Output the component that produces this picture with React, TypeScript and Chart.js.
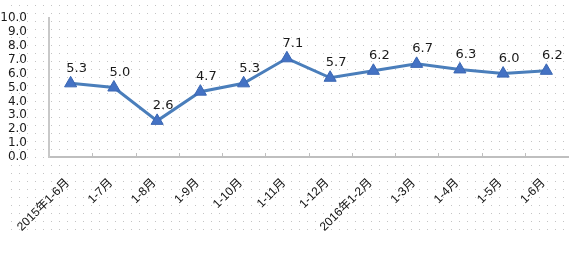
import React, { useEffect, useRef } from "react";
import { Chart, registerables } from "chart.js";

Chart.register(...registerables);

const categories = [
  "2015年1-6月", "1-7月", "1-8月", "1-9月", "1-10月", "1-11月",
  "1-12月", "2016年1-2月", "1-3月", "1-4月", "1-5月", "1-6月",
];
const values = [5.3, 5.0, 2.6, 4.7, 5.3, 7.1, 5.7, 6.2, 6.7, 6.3, 6.0, 6.2];
const yTicks = [0, 1, 2, 3, 4, 5, 6, 7, 8, 9, 10];

const FONT = "'DejaVu Sans', 'Noto Sans CJK SC', sans-serif";
const XFONT = "'Liberation Sans', 'Noto Sans CJK SC', sans-serif";

const dotsPlugin = {
  id: "dots",
  beforeDraw(chart: any) {
    const ctx = chart.ctx;
    ctx.save();
    ctx.fillStyle = "#ffffff";
    ctx.fillRect(0, 0, chart.width, chart.height);
    ctx.fillStyle = "#c4c4c4";
    for (let y = 5; y < 236; y += 8) {
      for (let x = 11; x < 568; x += 8) {
        ctx.fillRect(x, y, 1, 1);
      }
    }
    ctx.restore();
  },
};

const ticksPlugin = {
  id: "innerTicks",
  afterDraw(chart: any) {
    const xs = chart.scales.x;
    const ctx = chart.ctx;
    const n = categories.length;
    const step = (xs.right - xs.left) / n;
    ctx.save();
    ctx.strokeStyle = "#bfbfbf";
    ctx.lineWidth = 1;
    for (let i = 1; i < n; i++) {
      const x = Math.round(xs.left + i * step) + 0.5;
      ctx.beginPath();
      ctx.moveTo(x, xs.top - 4);
      ctx.lineTo(x, xs.top);
      ctx.stroke();
    }
    // rotated category labels
    ctx.font = `12px ${XFONT}`;
    ctx.fillStyle = "#111111";
    ctx.textAlign = "right";
    ctx.textBaseline = "middle";
    categories.forEach((label, i) => {
      const x = xs.getPixelForValue(i);
      ctx.save();
      ctx.translate(x - 3, xs.top + 24);
      ctx.rotate(-Math.PI / 4);
      ctx.fillText(label, 0, 0);
      ctx.restore();
    });
    ctx.restore();
  },
};

const labelsPlugin = {
  id: "valueLabels",
  afterDatasetsDraw(chart: any) {
    const ctx = chart.ctx;
    const meta = chart.getDatasetMeta(0);
    ctx.save();
    ctx.font = `13px ${FONT}`;
    ctx.fillStyle = "#1a1a1a";
    ctx.textAlign = "center";
    ctx.textBaseline = "middle";
    meta.data.forEach((pt: any, i: number) => {
      ctx.fillText(values[i].toFixed(1), pt.x + 6, pt.y - 15);
    });
    ctx.restore();
  },
};

export default function App() {
  const ref = useRef<HTMLCanvasElement>(null);
  useEffect(() => {
    if (!ref.current) return;
    const chart = new Chart(ref.current, {
      type: "line",
      data: {
        labels: categories,
        datasets: [
          {
            data: values,
            borderColor: "#4a7ebb",
            borderWidth: 3,
            pointStyle: "triangle",
            pointRadius: 7,
            pointBackgroundColor: "#4472c4",
            pointBorderColor: "#3b67b3",
            pointBorderWidth: 1,
            tension: 0,
          },
        ],
      },
      options: {
        animation: false,
        responsive: false,
        maintainAspectRatio: false,
        layout: { padding: { left: 0, right: 6, top: 18, bottom: 0 } },
        plugins: {
          legend: { display: false },
          tooltip: { enabled: false },
        },
        scales: {
          x: {
            offset: true,
            grid: { display: false },
            border: { display: true, color: "#bfbfbf", width: 2 },
            ticks: { display: false },
            afterFit(scale: any) {
              scale.height = 100;
              scale.paddingLeft = 0;
              scale.paddingRight = 0;
            },
          },
          y: {
            min: 0,
            max: 10,
            afterBuildTicks(scale: any) {
              scale.ticks = yTicks.map((v) => ({ value: v }));
            },
            grid: { display: false },
            border: { display: true, color: "#c8c8c8", width: 2 },
            ticks: {
              autoSkip: false,
              stepSize: 1,
              padding: 14,
              color: "#1a1a1a",
              font: { family: FONT, size: 12 },
              callback: (v: any) => Number(v).toFixed(1),
            },
            afterFit(scale: any) {
              scale.width = 49;
              scale.paddingTop = 0;
              scale.paddingBottom = 0;
            },
          },
        },
      },
      plugins: [dotsPlugin, ticksPlugin, labelsPlugin],
    });
    return () => chart.destroy();
  }, []);
  return (
    <div style={{ position: "absolute", left: 0, top: 0, width: 576, height: 257 }}>
      <canvas ref={ref} width={576} height={257} style={{ display: "block" }} />
    </div>
  );
}
